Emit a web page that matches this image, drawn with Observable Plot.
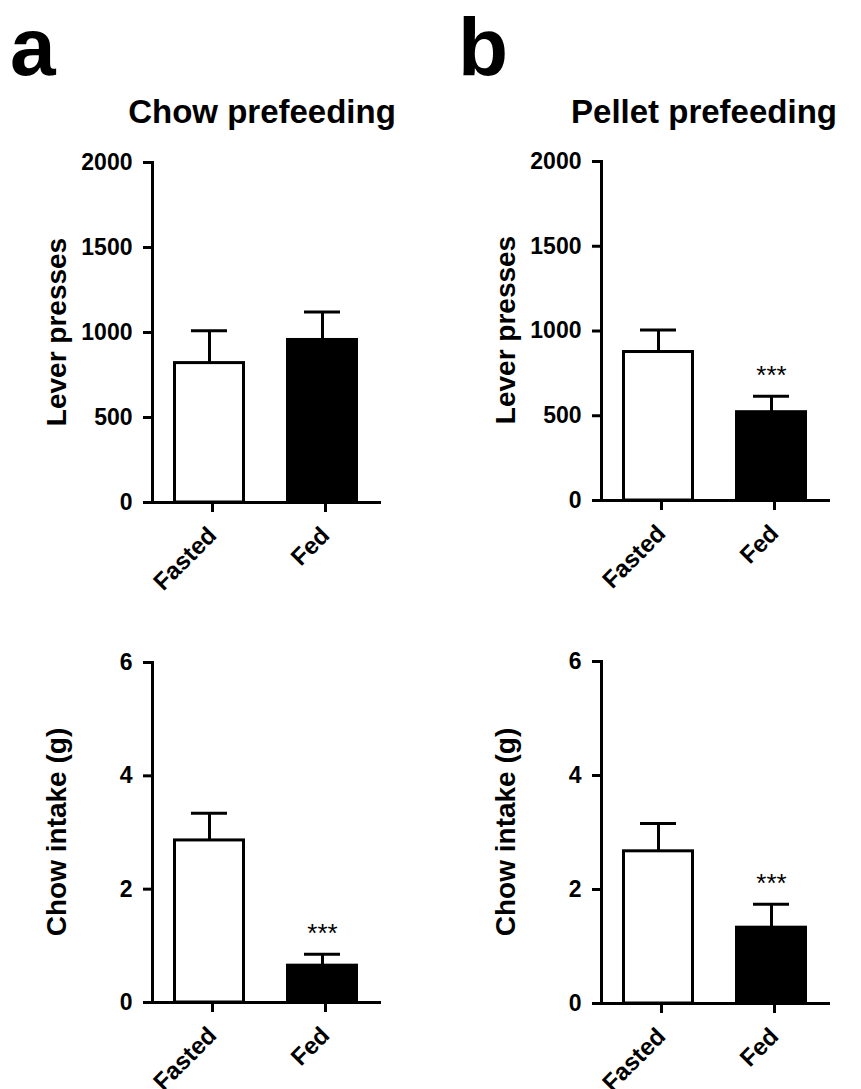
<!DOCTYPE html>
<html>
<head>
<meta charset="utf-8">
<script src="https://cdn.jsdelivr.net/npm/d3@7"></script>
<script src="https://cdn.jsdelivr.net/npm/@observablehq/plot@0.6"></script>
<style>
  html, body { margin: 0; padding: 0; background: #fff; }
  #page { position: relative; width: 861px; height: 1089px; overflow: hidden; background: #fff;
          font-family: "Liberation Sans", Arial, Helvetica, sans-serif; color: #000; }
  .abs { position: absolute; white-space: nowrap; line-height: 1; }
  .letter { font-size: 82px; font-weight: bold; }
  .title { font-size: 33px; font-weight: bold; width: 400px; text-align: center; }
  .ylab { font-size: 28px; font-weight: bold; transform: translate(-50%, -50%) rotate(-90deg); }
  .plot { position: absolute; }
</style>
</head>
<body>
<div id="page"></div>
<script>
// ---- data ----
const groups = ["Fasted", "Fed"];
const barFills = ["white", "black"];

const chowLeverMean = [820, 956];
const chowLeverSem = [190, 165];
const chowLeverSig = ["", ""];

const pelletLeverMean = [876, 521];
const pelletLeverSem = [130, 94];
const pelletLeverSig = ["", "***"];

const chowIntakeChowMean = [2.86, 0.65];
const chowIntakeChowSem = [0.48, 0.20];
const chowIntakeChowSig = ["", "***"];

const chowIntakePelletMean = [2.67, 1.33];
const chowIntakePelletSem = [0.49, 0.41];
const chowIntakePelletSig = ["", "***"];

const leverTicks = [0, 500, 1000, 1500, 2000];
const intakeTicks = [0, 2, 4, 6];

const panelTitles = ["Chow prefeeding", "Pellet prefeeding"];
const panelLetters = ["a", "b"];
const yLabels = ["Lever presses", "Chow intake (g)"];

// ---- layout ----
const page = document.getElementById("page");

function addDiv(cls, text, css) {
  const d = document.createElement("div");
  d.className = "abs " + cls;
  d.textContent = text;
  Object.assign(d.style, css);
  page.appendChild(d);
  return d;
}

function panel({mean, sem, sig, yMax, ticks, left, top, height, mt, mb}) {
  const data = groups.map((g, i) => ({group: g, mean: mean[i], top: mean[i] + sem[i], sig: sig[i], fill: barFills[i]}));
  const chart = Plot.plot({
    width: 430,
    height,
    marginLeft: 152,
    marginRight: 51,
    marginTop: mt,
    marginBottom: mb,
    style: {fontFamily: "'Liberation Sans', Arial, sans-serif", background: "transparent", color: "#000"},
    x: {domain: groups, paddingInner: 0.363, paddingOuter: 0.181, axis: null},
    y: {domain: [0, yMax], axis: null},
    color: {type: "identity"},
    marks: [
      Plot.barY(data, {x: "group", y: "mean", fill: "fill", stroke: "black", strokeWidth: 3, insetLeft: 1.5, insetRight: 1.5}),
      Plot.ruleX(data, {x: "group", y1: "mean", y2: "top", stroke: "black", strokeWidth: 3}),
      Plot.tickY(data, {x: "group", y: "top", stroke: "black", strokeWidth: 3, insetLeft: 18, insetRight: 18}),
      Plot.text(data, {x: "group", y: "top", text: "sig", dy: -12, lineAnchor: "bottom", fontSize: 26, fill: "black"}),
      Plot.frame({anchor: "left", stroke: "black", strokeWidth: 3}),
      Plot.ruleY([0], {stroke: "black", strokeWidth: 3, insetLeft: -9, insetRight: -2}),
      Plot.axisY({ticks, tickFormat: d => String(d), tickSize: 9, tickPadding: 11, strokeWidth: 3, fontSize: 23, fontWeight: "bold", label: null, stroke: "black", fill: "black"}),
      Plot.axisX({tickSize: 10, tickPadding: 19, strokeWidth: 3, tickRotate: -45, fontSize: 24, fontWeight: "bold", label: null, stroke: "black", fill: "black", dx: 3})
    ]
  });
  chart.classList.add("plot");
  chart.style.left = left + "px";
  chart.style.top = top + "px";
  page.appendChild(chart);
}

// panel letters and titles
addDiv("letter", panelLetters[0], {left: "10px", top: "6px"});
addDiv("letter", panelLetters[1], {left: "458px", top: "6px"});
addDiv("title", panelTitles[0], {left: (262 - 200) + "px", top: "95px"});
addDiv("title", panelTitles[1], {left: (704 - 200) + "px", top: "95px"});

// y-axis labels
addDiv("ylab", yLabels[0], {left: "57px", top: "332px"});
addDiv("ylab", yLabels[0], {left: "506px", top: "330px"});
addDiv("ylab", yLabels[1], {left: "57px", top: "832px"});
addDiv("ylab", yLabels[1], {left: "506px", top: "832px"});

// plots
panel({mean: chowLeverMean, sem: chowLeverSem, sig: chowLeverSig, yMax: 2000, ticks: leverTicks,
       left: 0, top: 140, height: 460, mt: 22, mb: 98});
panel({mean: pelletLeverMean, sem: pelletLeverSem, sig: pelletLeverSig, yMax: 2000, ticks: leverTicks,
       left: 449, top: 140, height: 460, mt: 21, mb: 100});
panel({mean: chowIntakeChowMean, sem: chowIntakeChowSem, sig: chowIntakeChowSig, yMax: 6, ticks: intakeTicks,
       left: 0, top: 640, height: 449, mt: 22, mb: 87});
panel({mean: chowIntakePelletMean, sem: chowIntakePelletSem, sig: chowIntakePelletSig, yMax: 6, ticks: intakeTicks,
       left: 449, top: 640, height: 449, mt: 21, mb: 86});
</script>
</body>
</html>
